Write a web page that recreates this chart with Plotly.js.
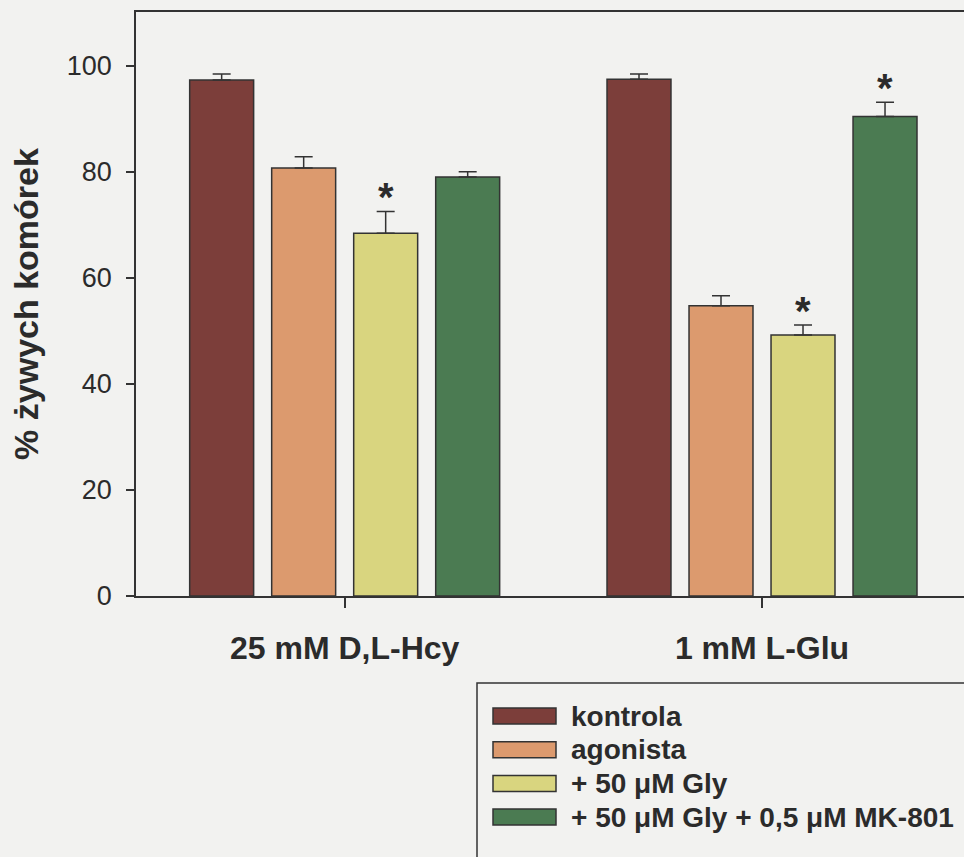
<!DOCTYPE html>
<html>
<head>
<meta charset="utf-8">
<script src="https://cdn.plot.ly/plotly-3.0.1.min.js"></script>
<style>
  html, body { margin: 0; padding: 0; background: #f2f2f0; overflow: hidden; }
  #chart { width: 964px; height: 857px; }
</style>
</head>
<body>
<div id="chart"></div>
<script>
// Groups (x categories) and series
const groups = ['25 mM D,L-Hcy', '1 mM L-Glu'];
const seriesNames = ['kontrola', 'agonista', '+ 50 \u03bcM Gly', '+ 50 \u03bcM Gly + 0,5 \u03bcM MK-801'];

// % of living cells (mean) and SEM for each series
const kontrola    = [97.3, 97.4];
const kontrolaErr = [1.1, 1.0];
const agonista    = [80.7, 54.7];
const agonistaErr = [2.1, 1.9];
const gly         = [68.4, 49.2];
const glyErr      = [4.1, 1.9];
const glyMk       = [79.0, 90.4];
const glyMkErr    = [1.0, 2.7];

// statistically significant differences (marked with *)
const kontrolaSig = [false, false];
const agonistaSig = [false, false];
const glySig      = [true, true];
const glyMkSig    = [false, true];

const yTicks = [0, 20, 40, 60, 80, 100];

const colors = ['#7c3e3a', '#dc9a6e', '#d9d57f', '#4b7b52'];
const values = [kontrola, agonista, gly, glyMk];
const errors = [kontrolaErr, agonistaErr, glyErr, glyMkErr];
const sigs   = [kontrolaSig, agonistaSig, glySig, glyMkSig];

const FONT = 'Liberation Sans, Arial, Helvetica, sans-serif';
const INK = '#2b2b2b';
const BARGAP = 0.214;
const BARGROUPGAP = 0.22;

const traces = values.map((v, i) => ({
  type: 'bar',
  name: seriesNames[i],
  x: groups,
  y: v,
  showlegend: false,
  marker: { color: colors[i], line: { color: '#333333', width: 1.5 } },
  error_y: {
    type: 'data', array: errors[i], arrayminus: v.map(() => 0), symmetric: false,
    visible: true, color: '#333333', thickness: 1.5, width: 9
  },
  hoverinfo: 'x+y+name'
}));

// asterisks above the significant bars
const annotations = [];
const slot = (1 - BARGAP) / values.length;
sigs.forEach((s, i) => {
  s.forEach((flag, g) => {
    if (!flag) return;
    annotations.push({
      xref: 'x', yref: 'y',
      x: g - (1 - BARGAP) / 2 + (i + 0.5) * slot,
      y: values[i][g] + errors[i][g],
      text: '*', showarrow: false,
      yanchor: 'bottom', yshift: -10,
      font: { family: FONT, size: 40, color: INK, weight: 'bold' }
    });
  });
});

// legend drawn as a boxed key below the plot
const pxX = px => (px - 136) / 828;
const pxY = py => (596 - py) / 584;
const shapes = [{
  type: 'rect', xref: 'paper', yref: 'paper',
  x0: pxX(477), x1: pxX(1000), y0: pxY(683), y1: pxY(900),
  line: { color: '#333333', width: 1.5 }, fillcolor: 'rgba(0,0,0,0)', layer: 'above'
}];
seriesNames.forEach((name, i) => {
  const cy = 716 + i * 33.7;
  shapes.push({
    type: 'rect', xref: 'paper', yref: 'paper',
    x0: pxX(493), x1: pxX(556), y0: pxY(cy + 8), y1: pxY(cy - 8),
    line: { color: '#333333', width: 1.5 }, fillcolor: colors[i], layer: 'above'
  });
  annotations.push({
    xref: 'paper', yref: 'paper', x: pxX(569), y: pxY(cy),
    xanchor: 'left', yanchor: 'middle', showarrow: false, text: name,
    font: { family: FONT, size: 28, color: INK, weight: 'bold' }
  });
});

const layout = {
  width: 964, height: 857, autosize: false,
  margin: { l: 136, r: 0, t: 12, b: 261, pad: 0 },
  paper_bgcolor: '#f2f2f0', plot_bgcolor: '#f2f2f0',
  barmode: 'group', bargap: BARGAP, bargroupgap: BARGROUPGAP,
  font: { family: FONT, color: INK },
  xaxis: {
    type: 'category', range: [-0.5, 1.484],
    showline: true, linecolor: '#333333', linewidth: 1.5, mirror: true,
    ticks: 'outside', ticklen: 10, tickwidth: 1.5, tickcolor: '#333333',
    ticklabelstandoff: 13,
    tickfont: { family: FONT, size: 32, color: INK, weight: 'bold' },
    showgrid: false, zeroline: false
  },
  yaxis: {
    range: [0, 110.1], tickvals: yTicks, ticktext: yTicks.map(String),
    showline: true, linecolor: '#333333', linewidth: 1.5,
    ticks: 'outside', ticklen: 8, tickwidth: 1.5, tickcolor: '#333333',
    ticklabelstandoff: 9,
    tickfont: { family: FONT, size: 27, color: INK },
    showgrid: false, zeroline: false,
    title: { text: '% \u017cywych kom\u00f3rek', standoff: 18,
             font: { family: FONT, size: 34, color: INK, weight: 'bold' } }
  },
  annotations: annotations,
  shapes: shapes
};

Plotly.newPlot('chart', traces, layout, { displayModeBar: false, staticPlot: false });
</script>
</body>
</html>
